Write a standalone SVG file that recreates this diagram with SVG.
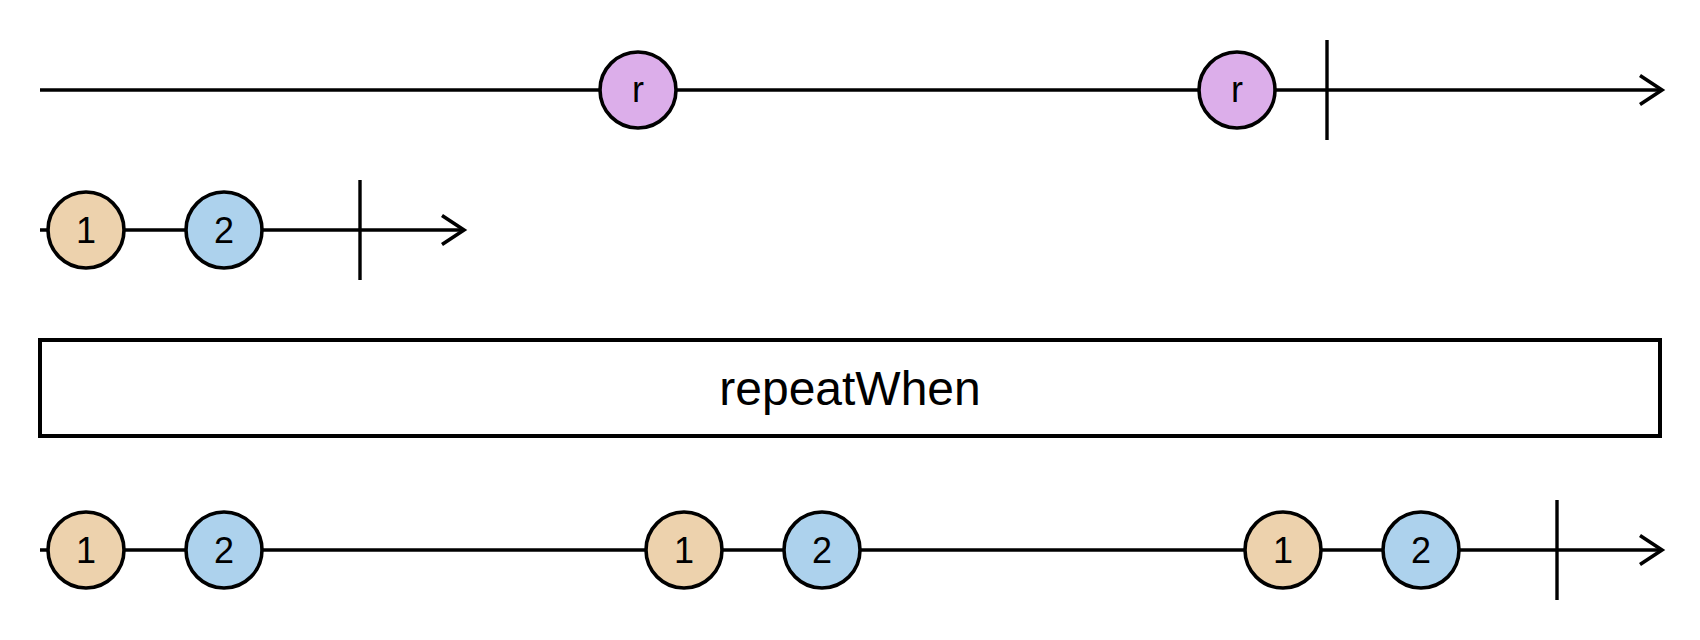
<svg xmlns="http://www.w3.org/2000/svg" width="1700" height="640" viewBox="0 0 1700 640">
<style>
.line{stroke:#000;stroke-width:3.6;fill:none}
.tick{stroke:#000;stroke-width:3.4}
.arrow{stroke:#000;stroke-width:3.6;fill:none}
.m{stroke:#000;stroke-width:3.6}
.o{fill:#EDD2AD}
.b{fill:#ADD2ED}
.v{fill:#DCAEEA}
.lbl{font-family:"Liberation Sans",Arial,sans-serif;font-size:36px;fill:#000;text-anchor:middle}
.op{font-family:"Liberation Sans",Arial,sans-serif;font-size:48px;fill:#000;text-anchor:middle}
</style>
<rect width="1700" height="640" fill="#fff"/>
<g id="connectors">
<line class="line" x1="40" y1="90" x2="1661" y2="90"/>
<polyline class="arrow" points="1640,75.5 1662,90 1640,104.5"/>
<line class="tick" x1="1327" y1="40" x2="1327" y2="140"/>
<line class="line" x1="40" y1="230" x2="463" y2="230"/>
<polyline class="arrow" points="442,215.5 464,230 442,244.5"/>
<line class="tick" x1="360" y1="180" x2="360" y2="280"/>
<line class="line" x1="40" y1="550" x2="1661" y2="550"/>
<polyline class="arrow" points="1640,535.5 1662,550 1640,564.5"/>
<line class="tick" x1="1557" y1="500" x2="1557" y2="600"/>
</g>
<g id="r1"><circle class="m v" cx="638" cy="90" r="38"/><text class="lbl" x="638" y="102">r</text></g>
<g id="r2"><circle class="m v" cx="1237" cy="90" r="38"/><text class="lbl" x="1237" y="102">r</text></g>
<g id="a1"><circle class="m o" cx="86" cy="230" r="38"/><text class="lbl" x="86" y="243">1</text></g>
<g id="a2"><circle class="m b" cx="224" cy="230" r="38"/><text class="lbl" x="224" y="243">2</text></g>
<g id="op"><rect x="40" y="340" width="1620" height="96" fill="#fff" stroke="#000" stroke-width="4"/><text class="op" x="850" y="405">repeatWhen</text></g>
<g id="c1"><circle class="m o" cx="86" cy="550" r="38"/><text class="lbl" x="86" y="563">1</text></g>
<g id="c2"><circle class="m b" cx="224" cy="550" r="38"/><text class="lbl" x="224" y="563">2</text></g>
<g id="c3"><circle class="m o" cx="684" cy="550" r="38"/><text class="lbl" x="684" y="563">1</text></g>
<g id="c4"><circle class="m b" cx="822" cy="550" r="38"/><text class="lbl" x="822" y="563">2</text></g>
<g id="c5"><circle class="m o" cx="1283" cy="550" r="38"/><text class="lbl" x="1283" y="563">1</text></g>
<g id="c6"><circle class="m b" cx="1421" cy="550" r="38"/><text class="lbl" x="1421" y="563">2</text></g>
</svg>
